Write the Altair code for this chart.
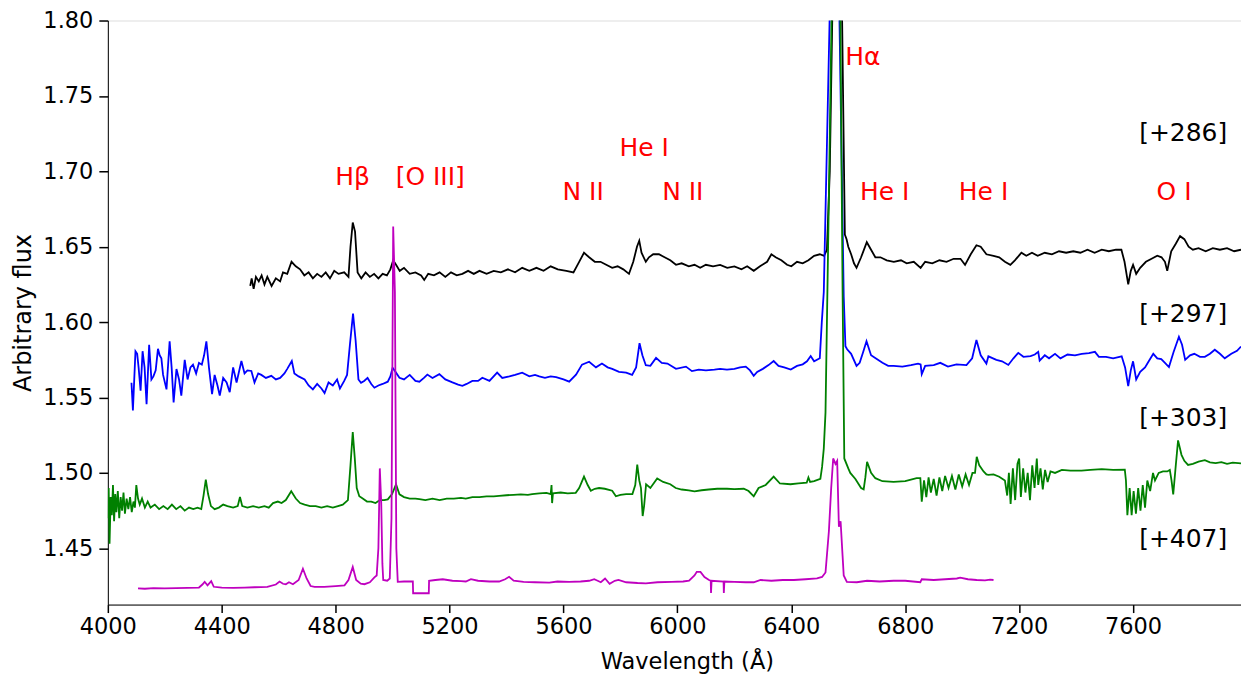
import altair as alt
import pandas as pd

# ---------------- data ----------------
black_wl = [4500, 4505, 4512, 4520, 4530, 4540, 4550, 4560, 4575, 4590, 4605, 4615, 4630, 4645, 4660, 4675,
            4690, 4705, 4720, 4735, 4750, 4765, 4780, 4795, 4810, 4830, 4845, 4852, 4860, 4868, 4877, 4890,
            4905, 4920, 4935, 4950, 4965, 4980, 4992, 5002, 5012, 5025, 5040, 5060, 5080, 5100, 5111, 5125,
            5145, 5165, 5185, 5205, 5225, 5245, 5265, 5285, 5305, 5330, 5355, 5380, 5405, 5430, 5455, 5480,
            5505, 5530, 5555, 5580, 5610, 5635, 5655, 5672, 5690, 5710, 5730, 5750, 5771, 5790, 5810, 5830,
            5845, 5858, 5866, 5874, 5889, 5900, 5915, 5935, 5955, 5975, 5995, 6015, 6040, 6060, 6080, 6100,
            6125, 6150, 6175, 6200, 6225, 6245, 6268, 6290, 6315, 6330, 6345, 6365, 6385, 6400, 6420, 6440,
            6460, 6480, 6500, 6515, 6525, 6535, 6548, 6560, 6575, 6588, 6594, 6600, 6610, 6620, 6629, 6645,
            6665, 6680, 6695, 6713, 6735, 6760, 6785, 6805, 6830, 6854, 6870, 6895, 6920, 6945, 6970, 6994,
            7010, 7030, 7050, 7065, 7085, 7110, 7130, 7150, 7169, 7185, 7208, 7225, 7245, 7265, 7290, 7315,
            7340, 7365, 7390, 7415, 7440, 7465, 7490, 7515, 7540, 7559, 7570, 7583, 7592, 7600, 7611, 7625,
            7645, 7665, 7685, 7700, 7712, 7720, 7734, 7750, 7765, 7780, 7795, 7810, 7830, 7855, 7880, 7905,
            7930, 7955, 7979]
black_flux = [1.624, 1.629, 1.622, 1.630, 1.627, 1.631, 1.625, 1.630, 1.624, 1.629, 1.627, 1.633, 1.632, 1.640, 1.637, 1.635,
              1.631, 1.633, 1.629, 1.632, 1.630, 1.633, 1.629, 1.634, 1.632, 1.633, 1.630, 1.650, 1.666, 1.660, 1.633, 1.629,
              1.633, 1.630, 1.632, 1.629, 1.632, 1.631, 1.635, 1.641, 1.638, 1.634, 1.636, 1.632, 1.633, 1.631, 1.628, 1.632,
              1.631, 1.633, 1.630, 1.633, 1.631, 1.632, 1.634, 1.632, 1.634, 1.632, 1.634, 1.633, 1.635, 1.633, 1.636, 1.634,
              1.636, 1.634, 1.637, 1.635, 1.634, 1.633, 1.640, 1.646, 1.643, 1.640, 1.640, 1.638, 1.636, 1.637, 1.635, 1.632,
              1.640, 1.650, 1.654, 1.646, 1.640, 1.643, 1.645, 1.645, 1.643, 1.641, 1.638, 1.639, 1.637, 1.638, 1.636, 1.638,
              1.637, 1.638, 1.636, 1.637, 1.635, 1.637, 1.634, 1.637, 1.640, 1.645, 1.643, 1.641, 1.638, 1.637, 1.640, 1.639,
              1.641, 1.644, 1.645, 1.644, 1.648, 1.700, 1.850, 1.900, 1.850, 1.658, 1.655, 1.650, 1.645, 1.639, 1.636, 1.643,
              1.653, 1.648, 1.643, 1.643, 1.641, 1.640, 1.641, 1.639, 1.640, 1.636, 1.640, 1.639, 1.641, 1.640, 1.642, 1.642,
              1.638, 1.645, 1.651, 1.650, 1.645, 1.644, 1.643, 1.640, 1.638, 1.641, 1.646, 1.644, 1.646, 1.644, 1.646, 1.645,
              1.647, 1.646, 1.647, 1.646, 1.648, 1.646, 1.648, 1.647, 1.648, 1.648, 1.640, 1.625, 1.634, 1.638, 1.632, 1.636,
              1.640, 1.642, 1.644, 1.643, 1.640, 1.634, 1.647, 1.652, 1.657, 1.655, 1.650, 1.648, 1.649, 1.647, 1.649, 1.648,
              1.649, 1.647, 1.648]

blue_wl = [4083, 4088, 4097, 4103, 4108, 4115, 4122, 4129, 4136, 4145, 4153, 4160, 4168, 4176, 4182, 4188,
           4194, 4206, 4217, 4224, 4231, 4241, 4250, 4258, 4270, 4280, 4290, 4299, 4310, 4320, 4330, 4338,
           4346, 4355, 4366, 4375, 4385, 4393, 4405, 4417, 4428, 4440, 4452, 4469, 4480, 4490, 4504, 4515,
           4528, 4539, 4555, 4574, 4590, 4605, 4620, 4630, 4646, 4655, 4670, 4691, 4705, 4720, 4735, 4750,
           4761, 4775, 4790, 4805, 4815, 4830, 4840, 4850, 4861, 4870, 4880, 4889, 4900, 4912, 4925, 4936,
           4950, 4965, 4983, 4992, 5000, 5010, 5024, 5040, 5060, 5080, 5094, 5110, 5122, 5140, 5164, 5185,
           5210, 5230, 5245, 5260, 5280, 5300, 5315, 5340, 5367, 5385, 5410, 5430, 5455, 5480, 5500, 5515,
           5535, 5555, 5574, 5600, 5620, 5644, 5665, 5690, 5714, 5735, 5755, 5771, 5795, 5820, 5841, 5855,
           5867, 5877, 5889, 5905, 5925, 5945, 5965, 5995, 6030, 6051, 6075, 6100, 6130, 6150, 6174, 6200,
           6220, 6240, 6255, 6268, 6280, 6300, 6320, 6338, 6355, 6375, 6398, 6420, 6440, 6455, 6468, 6480,
           6500, 6507, 6514, 6540, 6552, 6565, 6584, 6590, 6596, 6610, 6629, 6640, 6652, 6664, 6680, 6696,
           6720, 6740, 6759, 6790, 6820, 6845, 6854, 6858, 6870, 6900, 6923, 6950, 6980, 7015, 7035, 7050,
           7065, 7085, 7092, 7120, 7140, 7162, 7180, 7197, 7215, 7240, 7255, 7267, 7272, 7290, 7305, 7326,
           7345, 7370, 7396, 7420, 7445, 7466, 7480, 7505, 7530, 7560, 7572, 7583, 7592, 7600, 7611, 7625,
           7642, 7655, 7671, 7685, 7699, 7712, 7726, 7742, 7761, 7772, 7783, 7800, 7815, 7835, 7852, 7870,
           7887, 7905, 7922, 7945, 7965, 7979]
blue_flux = [1.5598, 1.5415, 1.5807, 1.579, 1.570, 1.5546, 1.5807, 1.570, 1.5456, 1.5849, 1.562, 1.564, 1.568, 1.5823, 1.578, 1.576,
             1.565, 1.5554, 1.5873, 1.570, 1.5467, 1.5689, 1.562, 1.5513, 1.575, 1.562, 1.570, 1.5718, 1.566, 1.573, 1.5718, 1.578,
             1.5873, 1.570, 1.5522, 1.565, 1.558, 1.5513, 1.563, 1.560, 1.5535, 1.570, 1.560, 1.5742, 1.566, 1.568, 1.5676, 1.560,
             1.566, 1.565, 1.563, 1.5644, 1.562, 1.563, 1.566, 1.569, 1.5742, 1.566, 1.564, 1.562, 1.558, 1.5554, 1.559, 1.556,
             1.553, 1.560, 1.558, 1.562, 1.556, 1.561, 1.565, 1.585, 1.6056, 1.588, 1.562, 1.5598, 1.561, 1.563, 1.559, 1.5565,
             1.558, 1.559, 1.5605, 1.564, 1.5697, 1.567, 1.5631, 1.562, 1.565, 1.561, 1.5605, 1.563, 1.5652, 1.563, 1.5655, 1.562,
             1.560, 1.5585, 1.5578, 1.559, 1.561, 1.561, 1.5631, 1.561, 1.5665, 1.563, 1.564, 1.565, 1.5665, 1.564, 1.565, 1.564,
             1.563, 1.564, 1.5635, 1.562, 1.5605, 1.5652, 1.5718, 1.5737, 1.570, 1.5725, 1.570, 1.569, 1.567, 1.5665, 1.565, 1.570,
             1.586, 1.578, 1.5714, 1.571, 1.5763, 1.573, 1.5725, 1.569, 1.5705, 1.5675, 1.5685, 1.568, 1.5685, 1.569, 1.5685, 1.569,
             1.570, 1.5705, 1.568, 1.5644, 1.567, 1.569, 1.5715, 1.5742, 1.571, 1.570, 1.5685, 1.571, 1.572, 1.574, 1.5775, 1.574,
             1.576, 1.600, 1.620, 1.850, 1.900, 1.850, 1.617, 1.584, 1.582, 1.579, 1.571, 1.573, 1.580, 1.5873, 1.578, 1.576,
             1.573, 1.571, 1.571, 1.5705, 1.5715, 1.5725, 1.572, 1.5655, 1.571, 1.5715, 1.573, 1.5705, 1.572, 1.5715, 1.576, 1.5882,
             1.578, 1.5725, 1.5773, 1.575, 1.574, 1.5716, 1.576, 1.5796, 1.577, 1.5775, 1.5785, 1.5803, 1.5745, 1.578, 1.576, 1.579,
             1.576, 1.5785, 1.578, 1.579, 1.5795, 1.5803, 1.577, 1.577, 1.576, 1.5773, 1.570, 1.5576, 1.568, 1.574, 1.562, 1.567,
             1.570, 1.574, 1.579, 1.576, 1.5755, 1.573, 1.5702, 1.580, 1.5903, 1.585, 1.575, 1.578, 1.579, 1.577, 1.577, 1.579,
             1.5817, 1.579, 1.576, 1.579, 1.581, 1.5838]

green_wl = [4000, 4003, 4006, 4010, 4014, 4018, 4022, 4026, 4030, 4035, 4040, 4045, 4050, 4055, 4060, 4066,
            4072, 4078, 4084, 4090, 4095, 4100, 4106, 4112, 4120, 4130, 4140, 4150, 4165, 4180, 4195, 4210,
            4225, 4240, 4255, 4270, 4285, 4300, 4315, 4328, 4336, 4344, 4352, 4362, 4375, 4390, 4405, 4420,
            4440, 4456, 4464, 4472, 4490, 4510, 4530, 4550, 4565, 4580, 4597, 4610, 4625, 4644, 4660, 4675,
            4691, 4710, 4730, 4750, 4770, 4790, 4808, 4825, 4843, 4852, 4860, 4867, 4874, 4883, 4895, 4910,
            4925, 4940, 4955, 4970, 4983, 4998, 5012, 5024, 5040, 5060, 5080, 5094, 5115, 5140, 5165, 5190,
            5215, 5240, 5257, 5280, 5305, 5330, 5355, 5374, 5400, 5425, 5450, 5475, 5490, 5515, 5540, 5555,
            5558, 5560, 5563, 5590, 5615, 5643, 5655, 5672, 5685, 5696, 5710, 5725, 5745, 5771, 5784, 5800,
            5820, 5842, 5852, 5859, 5866, 5872, 5878, 5883, 5890, 5905, 5929, 5950, 5975, 5994, 6015, 6040,
            6060, 6085, 6110, 6140, 6174, 6200, 6233, 6250, 6268, 6285, 6310, 6338, 6360, 6397, 6425, 6454,
            6460, 6466, 6480, 6502, 6508, 6514, 6520, 6530, 6545, 6560, 6570, 6580, 6586, 6600, 6607, 6625,
            6645, 6654, 6660, 6666, 6680, 6695, 6720, 6759, 6800, 6840, 6853, 6858, 6866, 6874, 6882, 6890,
            6900, 6910, 6920, 6930, 6940, 6952, 6964, 6976, 6988, 7000, 7012, 7024, 7036, 7045, 7051, 7060,
            7075, 7085, 7092, 7110, 7130, 7150, 7158, 7164, 7170, 7178, 7186, 7194, 7200, 7206, 7214, 7222,
            7230, 7238, 7246, 7254, 7262, 7267, 7275, 7283, 7291, 7300, 7310, 7326, 7350, 7380, 7419, 7450,
            7490, 7530, 7571, 7575, 7580, 7588, 7595, 7602, 7610, 7618, 7626, 7634, 7642, 7650, 7660, 7670,
            7677, 7690, 7705, 7720, 7729, 7735, 7741, 7750, 7758, 7770, 7780, 7793, 7810, 7830, 7852, 7870,
            7890, 7910, 7930, 7950, 7979]
green_flux = [1.470, 1.490, 1.453, 1.484, 1.472, 1.492, 1.468, 1.486, 1.474, 1.488, 1.470, 1.484, 1.475, 1.487, 1.473, 1.483,
              1.476, 1.484, 1.474, 1.481, 1.477, 1.492, 1.483, 1.479, 1.483, 1.477, 1.481, 1.477, 1.479, 1.476, 1.478, 1.476,
              1.479, 1.476, 1.478, 1.475, 1.477, 1.476, 1.477, 1.476, 1.485, 1.4956, 1.486, 1.478, 1.476, 1.477, 1.479, 1.478,
              1.477, 1.478, 1.484, 1.478, 1.477, 1.478, 1.477, 1.478, 1.477, 1.480, 1.481, 1.480, 1.482, 1.4878, 1.483, 1.480,
              1.479, 1.478, 1.478, 1.477, 1.478, 1.477, 1.478, 1.479, 1.482, 1.505, 1.5271, 1.510, 1.490, 1.4845, 1.483, 1.481,
              1.481, 1.480, 1.482, 1.482, 1.4825, 1.486, 1.4924, 1.4858, 1.484, 1.483, 1.483, 1.4826, 1.482, 1.483, 1.482, 1.483,
              1.483, 1.4835, 1.483, 1.484, 1.484, 1.4845, 1.4845, 1.4848, 1.4852, 1.4855, 1.4858, 1.4855, 1.486, 1.4865, 1.4868, 1.486,
              1.492, 1.480, 1.4865, 1.487, 1.4865, 1.4868, 1.490, 1.4976, 1.492, 1.4882, 1.4895, 1.490, 1.4895, 1.4882, 1.4845, 1.4855,
              1.486, 1.486, 1.492, 1.5055, 1.495, 1.490, 1.4714, 1.478, 1.4925, 1.490, 1.4963, 1.494, 1.4925, 1.490, 1.489, 1.4885,
              1.4878, 1.4885, 1.489, 1.4895, 1.4895, 1.4892, 1.4895, 1.488, 1.4845, 1.490, 1.492, 1.4976, 1.493, 1.4925, 1.493, 1.4935,
              1.497, 1.494, 1.4945, 1.496, 1.504, 1.5161, 1.540, 1.660, 1.850, 1.900, 1.850, 1.620, 1.5096, 1.503, 1.500, 1.496,
              1.490, 1.4891, 1.497, 1.5074, 1.500, 1.4965, 1.4945, 1.494, 1.4945, 1.4965, 1.4965, 1.481, 1.495, 1.484, 1.497, 1.487,
              1.496, 1.485, 1.497, 1.488, 1.498, 1.490, 1.498, 1.489, 1.499, 1.491, 1.499, 1.492, 1.500, 1.500, 1.5107, 1.505,
              1.501, 1.499, 1.4987, 1.499, 1.4975, 1.495, 1.485, 1.500, 1.4795, 1.503, 1.482, 1.506, 1.5096, 1.484, 1.503, 1.487,
              1.500, 1.482, 1.505, 1.490, 1.5096, 1.492, 1.503, 1.489, 1.502, 1.494, 1.501, 1.500, 1.502, 1.5015, 1.5015, 1.502,
              1.5025, 1.502, 1.5022, 1.495, 1.472, 1.490, 1.472, 1.488, 1.473, 1.490, 1.475, 1.492, 1.477, 1.495, 1.488, 1.500,
              1.495, 1.500, 1.501, 1.501, 1.502, 1.495, 1.4858, 1.505, 1.5216, 1.512, 1.508, 1.5053, 1.506, 1.5075, 1.5085, 1.507,
              1.5065, 1.5072, 1.506, 1.5068, 1.5063]

magenta_wl = [4106, 4130, 4160, 4200, 4240, 4280, 4320, 4332, 4340, 4350, 4363, 4372, 4400, 4440, 4480, 4515,
              4560, 4590, 4603, 4615, 4625, 4636, 4650, 4670, 4685, 4698, 4712, 4726, 4760, 4800, 4831, 4845,
              4860, 4872, 4888, 4901, 4920, 4936, 4944, 4950, 4955, 4960, 4964, 4967, 4981, 4990, 4996, 5002,
              5008, 5013, 5018, 5040, 5071, 5072, 5127, 5128, 5150, 5176, 5210, 5240, 5257, 5275, 5300, 5340,
              5374, 5395, 5409, 5425, 5460, 5500, 5550, 5579, 5620, 5660, 5690, 5708, 5720, 5731, 5746, 5762,
              5780, 5793, 5820, 5860, 5889, 5930, 5980, 6020, 6041, 6060, 6068, 6081, 6095, 6111, 6117, 6118,
              6120, 6162, 6163, 6165, 6200, 6240, 6268, 6292, 6330, 6370, 6409, 6450, 6490, 6508, 6520, 6532,
              6540, 6547, 6555, 6561, 6567, 6573, 6580, 6584, 6595, 6630, 6666, 6710, 6759, 6800, 6853, 6858,
              6900, 6940, 6981, 6993, 7020, 7051, 7080, 7098, 7110]
magenta_flux = [1.4234, 1.4232, 1.4236, 1.4234, 1.4236, 1.4238, 1.4240, 1.4260, 1.4278, 1.4255, 1.4282, 1.4245, 1.4240, 1.4238, 1.4240, 1.4242,
                1.4245, 1.4260, 1.4280, 1.4265, 1.4262, 1.4275, 1.4262, 1.4290, 1.4365, 1.4300, 1.4250, 1.4245, 1.4245, 1.4250, 1.4255, 1.4290,
                1.4376, 1.4290, 1.4265, 1.4262, 1.4275, 1.4307, 1.4320, 1.4500, 1.5030, 1.4800, 1.4400, 1.4290, 1.4285, 1.4300, 1.4700, 1.6634,
                1.6200, 1.4500, 1.4278, 1.4280, 1.4280, 1.4202, 1.4202, 1.4284, 1.4290, 1.4295, 1.4285, 1.4282, 1.4280, 1.4295, 1.4285, 1.4280,
                1.4280, 1.4295, 1.4311, 1.4285, 1.4278, 1.4275, 1.4273, 1.4280, 1.4278, 1.4280, 1.4285, 1.4295, 1.4285, 1.4275, 1.4300, 1.4265,
                1.4285, 1.4290, 1.4275, 1.4270, 1.4268, 1.4275, 1.4278, 1.4280, 1.4285, 1.4320, 1.4344, 1.4344, 1.4310, 1.4290, 1.4285, 1.4204,
                1.4285, 1.4280, 1.4204, 1.4280, 1.4278, 1.4275, 1.4275, 1.4290, 1.4285, 1.4290, 1.4290, 1.4295, 1.4300, 1.4310, 1.4340, 1.4616,
                1.4900, 1.5096, 1.5060, 1.5080, 1.4643, 1.4680, 1.4450, 1.4320, 1.4278, 1.4275, 1.4285, 1.4280, 1.4285, 1.4285, 1.4275, 1.4295,
                1.4290, 1.4295, 1.4300, 1.4305, 1.4295, 1.4290, 1.4288, 1.4293, 1.4290]

line_labels = ["H\u03b2", "[O III]", "He I", "N II", "N II", "H\u03b1", "He I", "He I", "O I"]
line_label_x = [4859, 5132, 5883, 5669, 6019, 6651, 6728, 7075, 7744]
line_label_y = [1.696, 1.696, 1.7156, 1.686, 1.686, 1.7758, 1.686, 1.686, 1.686]

epoch_labels = ["[+286]", "[+297]", "[+303]", "[+407]"]
epoch_label_x = [7776, 7776, 7776, 7776]
epoch_label_y = [1.7254, 1.6056, 1.5362, 1.4564]

x_ticks = [4000, 4400, 4800, 5200, 5600, 6000, 6400, 6800, 7200, 7600]
y_ticks = [1.45, 1.50, 1.55, 1.60, 1.65, 1.70, 1.75, 1.80]

# ---------------- chart ----------------
FONT = "DejaVu Sans"
xscale = alt.Scale(domain=[4000, 7979], nice=False, zero=False)
yscale = alt.Scale(domain=[1.4127, 1.80], nice=False, zero=False)

xaxis = alt.Axis(values=x_ticks, format="d", title="Wavelength (\u00c5)", grid=False,
                 tickSize=8, tickWidth=1.5, tickColor="#000", labelPadding=3,
                 labelFont=FONT, labelFontSize=22.5, labelColor="#000",
                 titleFont=FONT, titleFontSize=22.5, titleFontWeight="normal", titleColor="#000",
                 titlePadding=13, titleX=580, domainColor="#000", domainWidth=1, labelFlush=False)
yaxis = alt.Axis(values=y_ticks, format=".2f", title="Arbitrary flux", grid=False,
                 tickSize=9, tickWidth=1.5, tickColor="#000", labelPadding=6,
                 labelFont=FONT, labelFontSize=22.5, labelColor="#000",
                 titleFont=FONT, titleFontSize=24, titleFontWeight="normal", titleColor="#000",
                 titlePadding=7, domainColor="#000", domainWidth=1, labelFlush=False)

X = lambda f: alt.X(f, scale=xscale, axis=xaxis)
Y = lambda f: alt.Y(f, scale=yscale, axis=yaxis)


def spectrum(wl, flux, color):
    df = pd.DataFrame({"wl": wl, "flux": flux})
    return alt.Chart(df).mark_line(color=color, strokeWidth=1.8, clip=True).encode(
        x=X("wl:Q"), y=Y("flux:Q"))


black = spectrum(black_wl, black_flux, "#000000")
blue = spectrum(blue_wl, blue_flux, "#0000ff")
green = spectrum(green_wl, green_flux, "#008000")
magenta = spectrum(magenta_wl, magenta_flux, "#bf00bf")

lines_df = pd.DataFrame({"label": line_labels, "x": line_label_x, "y": line_label_y})
line_text = alt.Chart(lines_df).mark_text(font=FONT, fontSize=25, color="#ff0000",
                                          align="center", baseline="middle").encode(
    x=X("x:Q"), y=Y("y:Q"), text="label:N")

epochs_df = pd.DataFrame({"label": epoch_labels, "x": epoch_label_x, "y": epoch_label_y})
epoch_text = alt.Chart(epochs_df).mark_text(font=FONT, fontSize=25, color="#000000",
                                            align="center", baseline="middle").encode(
    x=X("x:Q"), y=Y("y:Q"), text="label:N")

chart = alt.layer(black, blue, green, magenta, line_text, epoch_text).properties(
    width=1135, height=585,
    autosize=alt.AutoSizeParams(type="none"),
    padding={"left": 100, "top": 12, "right": 0, "bottom": 70},
).configure_view(stroke="#555555", strokeWidth=1).configure(background="white")

chart.save("out.html", embed_options={"renderer": "svg", "actions": False})
